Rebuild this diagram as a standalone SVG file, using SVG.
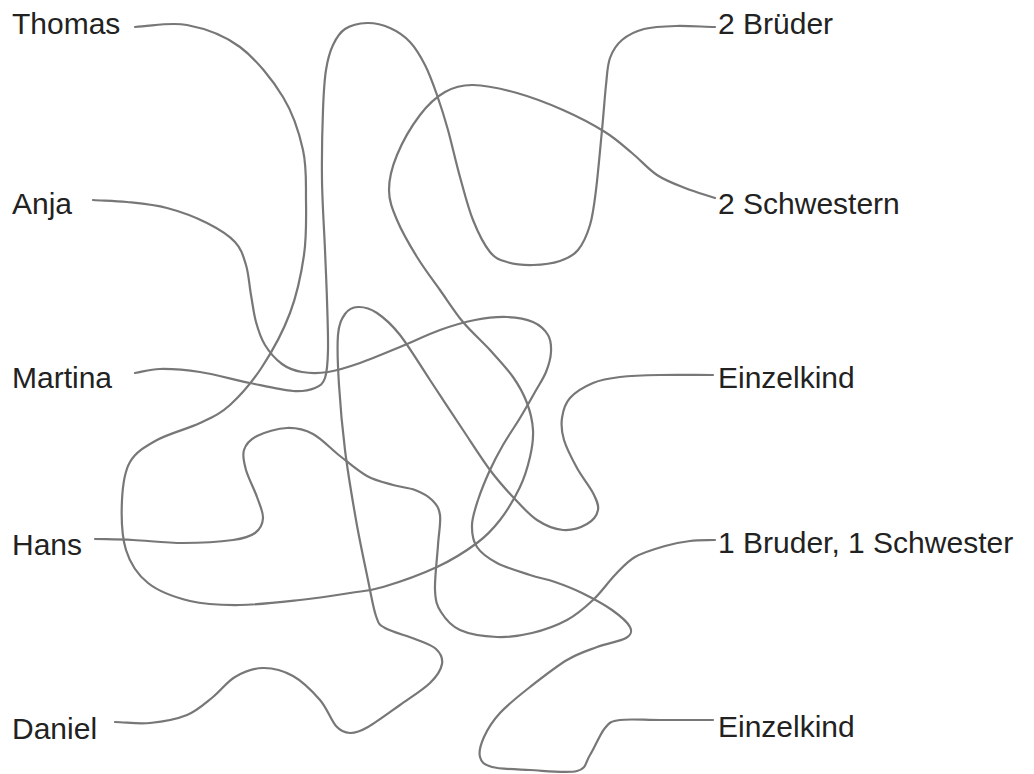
<svg xmlns="http://www.w3.org/2000/svg" width="1034" height="774" viewBox="0 0 1034 774">
<style>
.lbl{font-family:"Liberation Sans",Arial,sans-serif;font-size:30px;fill:#222}
.wire{fill:none;stroke:#777;stroke-width:2.2;stroke-linecap:round;stroke-linejoin:round}
</style>
<rect width="1034" height="774" fill="#fff"/>
<g id="connectors">
<path id="thomas-2schwestern" class="wire" d="M135,27 C152.3,26.3 169.5,21.7 187,25 S224,35 240,47 S272.5,79.8 283,97 S299.2,132.8 303,150 S305.8,182.5 306,200 S306.7,236.2 304,255 S297,294.3 290,313 S272,351.7 262,367 S240.3,395.7 230,405 S212.2,417.2 200,423 S168.7,433.5 157,440 S135.8,452 130,462 S122.7,485.3 122,500 S121.7,536.2 126,550 S137.3,574.5 148,583 S174.7,597.3 190,601 S221.7,605.2 240,605 S281.7,602 300,600 S336.2,595.2 350,593 S368.5,591.3 383,587 S421.3,574.3 437,567 S466.5,550.8 477,543 S492.8,529.3 500,520 S515,497.5 520,487 S527.8,466.5 530,457 S533.5,439 533,430 S530.3,411.8 527,403 S519.2,385.8 513,377 S498.3,359.2 490,350 S471.3,332 463,322 S447.7,300.8 440,290 S424.2,268.7 417,257 S401.7,231.2 397,220 S389,200.8 389,190 S391.8,167.5 397,155 S412,125.5 420,115 S436.2,97 445,92 S461,84.8 473,85 S502,88.8 517,93 S548.3,103.5 563,110 S593.5,124.8 605,132 S623.3,145.8 632,153 S648.2,169.2 657,175 S675.3,184.2 685,188 S705,194.7 715,198"/>
<path id="anja-einzelkind2" class="wire" d="M93,200 C104.3,200.7 114.7,200.7 127,202 S153.7,204.5 167,208 S195.7,217.3 207,223 S228.5,235 235,242 S243.3,256.2 246,265 S249.3,285.5 251,295 S253.7,313.7 256,322 S260.7,338 265,345 S275.8,359.5 282,364 S294.3,370.7 302,372 S318.3,373.5 328,372 S348,367.2 360,363 S386.7,352.5 400,347 S427.5,334.5 440,330 S463.8,322.2 475,320 S497.3,316.7 507,317 S526.2,319 533,322 S545,330 548,335 S551.3,345.8 551,352 S548.7,365.3 546,372 S539.3,384.3 535,392 S525.3,409.2 520,418 S508,436.3 503,445 S494.2,460.8 490,470 S481,490.8 478,500 S472.2,517.2 472,525 S472.8,540.7 477,547 S488.2,558.3 497,563 S520.3,571.8 530,575 S546.3,579 555,582 S572.5,588.3 582,593 S604,604.3 612,610 S627.7,622.3 630,627 S631.5,634.7 626,638 S606.8,643.3 597,647 S578.2,653.3 567,660 S541.2,678.2 530,687 S507.7,704.7 500,713 S487.3,729.7 484,737 S478.7,752 480,757 S483.7,764.8 492,767 S515.8,769.3 530,770 S567,773.5 577,771 S585.3,762.2 590,755 S600,733.8 605,728 S610.8,721.3 620,720 S644.5,720 660,720 S695.3,720 713,720"/>
<path id="martina-2brueder" class="wire" d="M135,373 C143.3,371.7 149.2,369.2 160,369 S185,369.7 200,372 S234.5,379.8 250,383 S282.2,390.2 293,391 S309.7,390.2 315,388 S322.8,384.3 325,378 S327.7,363 328,350 S327.5,316.7 327,300 S325.8,270 325,250 S322.3,203.3 322,180 S322.3,128.3 323,110 S324.3,80.8 326,70 S329.8,51.8 333,45 S339.3,32.7 345,29 S359.5,23.2 367,23 S382.8,24.8 390,28 S404.2,35.8 410,42 S420.5,56.2 425,65 S433.2,84.2 437,95 S444.2,116.3 448,130 S455.8,162 460,177 S468,207.5 473,220 S484.3,245 490,252 S499.8,259.8 507,262 S524.2,265.2 533,265 S552.5,263.5 560,261 S573,256 578,250 S587,235 590,225 S594,205.8 596,190 S600.3,147.5 602,130 S604.7,97 606,85 S607.3,65.5 610,58 S616.3,44.8 622,40 S635,31.3 644,29 S664.2,26.3 676,26 S702,26.7 715,27"/>
<path id="hans-1bruder1schwester" class="wire" d="M95,539 C107.7,539.3 118.3,539.3 133,540 S166.3,543 183,543 S221,541.7 233,540 S250,536.7 255,533 S262.7,524 263,518 S259.8,505 257,497 S248.2,477.8 246,470 S242.2,455.7 244,450 S249.8,439.7 257,436 S277.7,428.3 287,428 S304.2,429.3 313,434 S331,449 340,456 S358.2,471.2 367,476 S385,482.7 393,485 S408.5,487.5 415,490 S427.8,495.8 432,500 S439,507.5 440,515 S438.8,532.5 438,545 S434.5,578.8 435,590 S436.8,605.3 441,612 S450.7,625.8 460,630 S485,636.5 497,637 S520.3,635.8 532,633 S556.8,625.5 567,620 S585,607.5 593,600 S608,582.2 615,575 S626.7,561.8 635,557 S655.8,548.7 665,546 S681.7,542 690,541 S706.7,540.3 715,540"/>
<path id="daniel-einzelkind1" class="wire" d="M115,722 C126.7,722.3 138,724.2 150,723 S176.5,719.3 187,715 S205,703.3 213,697 S226.7,681.8 235,677 S253.3,668.2 263,668 S283.5,670.7 293,676 S312.8,691.7 320,700 S331,720.5 336,726 S344.7,732.8 350,733 S359.7,731.7 368,727 S389.7,712.3 400,705 S423,689.8 430,683 S441,669.7 442,664 S440.5,653.2 436,649 S423.5,642.5 415,639 S391.5,631.8 385,628 S378.8,624 376,616 S371.3,596 368,580 S359.8,541.7 356,520 S347.8,472.5 345,450 S340.2,404.2 339,385 S337,346.8 338,335 S341.7,318.7 345,314 S352.7,307.2 358,307 S370,308.3 377,313 S391.2,323.8 400,335 S419.5,364.2 430,380 S453,415 463,430 S481.7,458.8 490,470 S505.2,488.7 513,497 S528.7,514.5 537,520 S554.7,529.3 563,530 S581.2,527.3 587,524 S597,515.2 598,510 S596.5,500 593,493 S581.8,476.8 577,468 S566.5,448.3 564,440 S561,425 562,418 S564.8,403.8 570,398 S584.7,386.5 593,383 S608.8,378.3 620,377 S644.5,375.3 660,375 S695.3,375 713,375"/>
</g>
<g id="thomas"><text class="lbl" x="12" y="34">Thomas</text></g>
<g id="anja"><text class="lbl" x="12" y="214">Anja</text></g>
<g id="martina"><text class="lbl" x="12" y="388">Martina</text></g>
<g id="hans"><text class="lbl" x="12" y="555">Hans</text></g>
<g id="daniel"><text class="lbl" x="12" y="739">Daniel</text></g>
<g id="zwei-brueder"><text class="lbl" x="718" y="34">2 Brüder</text></g>
<g id="zwei-schwestern"><text class="lbl" x="718" y="214">2 Schwestern</text></g>
<g id="einzelkind-1"><text class="lbl" x="718" y="388">Einzelkind</text></g>
<g id="bruder-schwester"><text class="lbl" x="718" y="553">1 Bruder, 1 Schwester</text></g>
<g id="einzelkind-2"><text class="lbl" x="718" y="737">Einzelkind</text></g>
</svg>
